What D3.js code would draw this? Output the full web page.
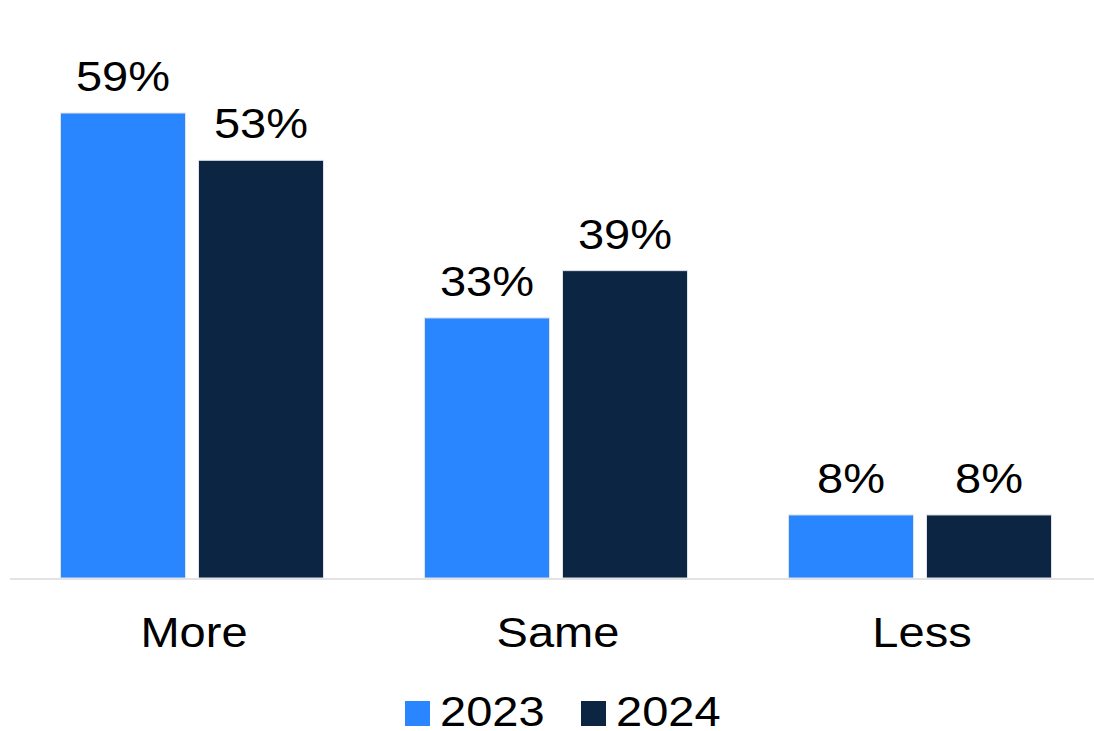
<!DOCTYPE html>
<html>
<head>
<meta charset="utf-8">
<script src="https://cdn.jsdelivr.net/npm/d3@7"></script>
<style>
  html, body { margin: 0; padding: 0; background: #ffffff; }
  svg { display: block; }
  text { font-family: "Liberation Sans", Arial, sans-serif; fill: #000000; }
</style>
</head>
<body>
<svg id="chart" width="1094" height="731"></svg>
<script>
// Responses by category, per survey year (percent)
const categories = ["More", "Same", "Less"];
const years = ["2023", "2024"];
const values2023 = [59, 33, 8];
const values2024 = [53, 39, 8];
const yearColors = ["#2986ff", "#0b2542"];

const series = { "2023": values2023, "2024": values2024 };
const rows = categories.map((c, i) => ({
  category: c,
  bars: years.map(y => ({ year: y, value: series[y][i] }))
}));

const svg = d3.select("#chart");
const baseline = 578;

const x0 = d3.scaleBand()
  .domain(categories)
  .range([10, 1102])
  .paddingInner(0.2775)
  .paddingOuter(0.13875);

const x1 = d3.scaleBand()
  .domain(years)
  .range([0, x0.bandwidth()])
  .paddingInner(0.0942);

const y = d3.scaleLinear()
  .domain([0, 60])
  .range([baseline, baseline - 60 * 7.881]);

const color = d3.scaleOrdinal().domain(years).range(yearColors);

// horizontal-stretch factor for the sans text
const sx = 1.12;
function stretchedText(sel, size, anchorX, baselineY) {
  sel.attr("font-size", size)
    .attr("text-anchor", "middle")
    .attr("transform", d => `translate(${anchorX(d)},${baselineY(d)}) scale(${sx},1)`);
}

// bars
const groups = svg.append("g").selectAll("g")
  .data(rows)
  .join("g")
  .attr("transform", d => `translate(${x0(d.category)},0)`);

groups.selectAll("rect")
  .data(d => d.bars)
  .join("rect")
  .attr("x", d => x1(d.year))
  .attr("y", d => y(d.value))
  .attr("width", x1.bandwidth())
  .attr("height", d => y(0) - y(d.value))
  .attr("fill", d => color(d.year))
  .attr("stroke", "#dde3ea")
  .attr("stroke-width", 1);

// value labels
groups.selectAll("text.value")
  .data(d => d.bars)
  .join("text")
  .attr("class", "value")
  .text(d => d.value + "%")
  .call(stretchedText, 42,
    d => x1(d.year) + x1.bandwidth() / 2,
    d => y(d.value) - 22);

// baseline axis
const xAxis = d3.axisBottom(x0).tickSize(0).tickPadding(0);
const axisG = svg.append("g")
  .attr("transform", `translate(0,${baseline})`)
  .call(xAxis);
axisG.select(".domain").remove();
axisG.append("line")
  .attr("x1", 10).attr("x2", 1094)
  .attr("y1", 1).attr("y2", 1)
  .attr("stroke", "#e3e3e3")
  .attr("stroke-width", 2);
axisG.selectAll(".tick text")
  .attr("y", null).attr("dy", null)
  .attr("fill", "#000")
  .style("font-family", '"Liberation Sans", Arial, sans-serif')
  .attr("font-size", 42)
  .attr("text-anchor", "middle")
  .attr("transform", `translate(2,${647 - baseline}) scale(${sx},1)`);

// legend
const legendX = [405, 581];
const legend = svg.append("g").selectAll("g")
  .data(years)
  .join("g")
  .attr("transform", (d, i) => `translate(${legendX[i]},701)`);
legend.append("rect")
  .attr("width", 25).attr("height", 25)
  .attr("fill", d => color(d));
legend.append("text")
  .text(d => d)
  .attr("font-size", 42)
  .attr("text-anchor", "start")
  .attr("transform", `translate(35,25) scale(${sx},1)`);
</script>
</body>
</html>
